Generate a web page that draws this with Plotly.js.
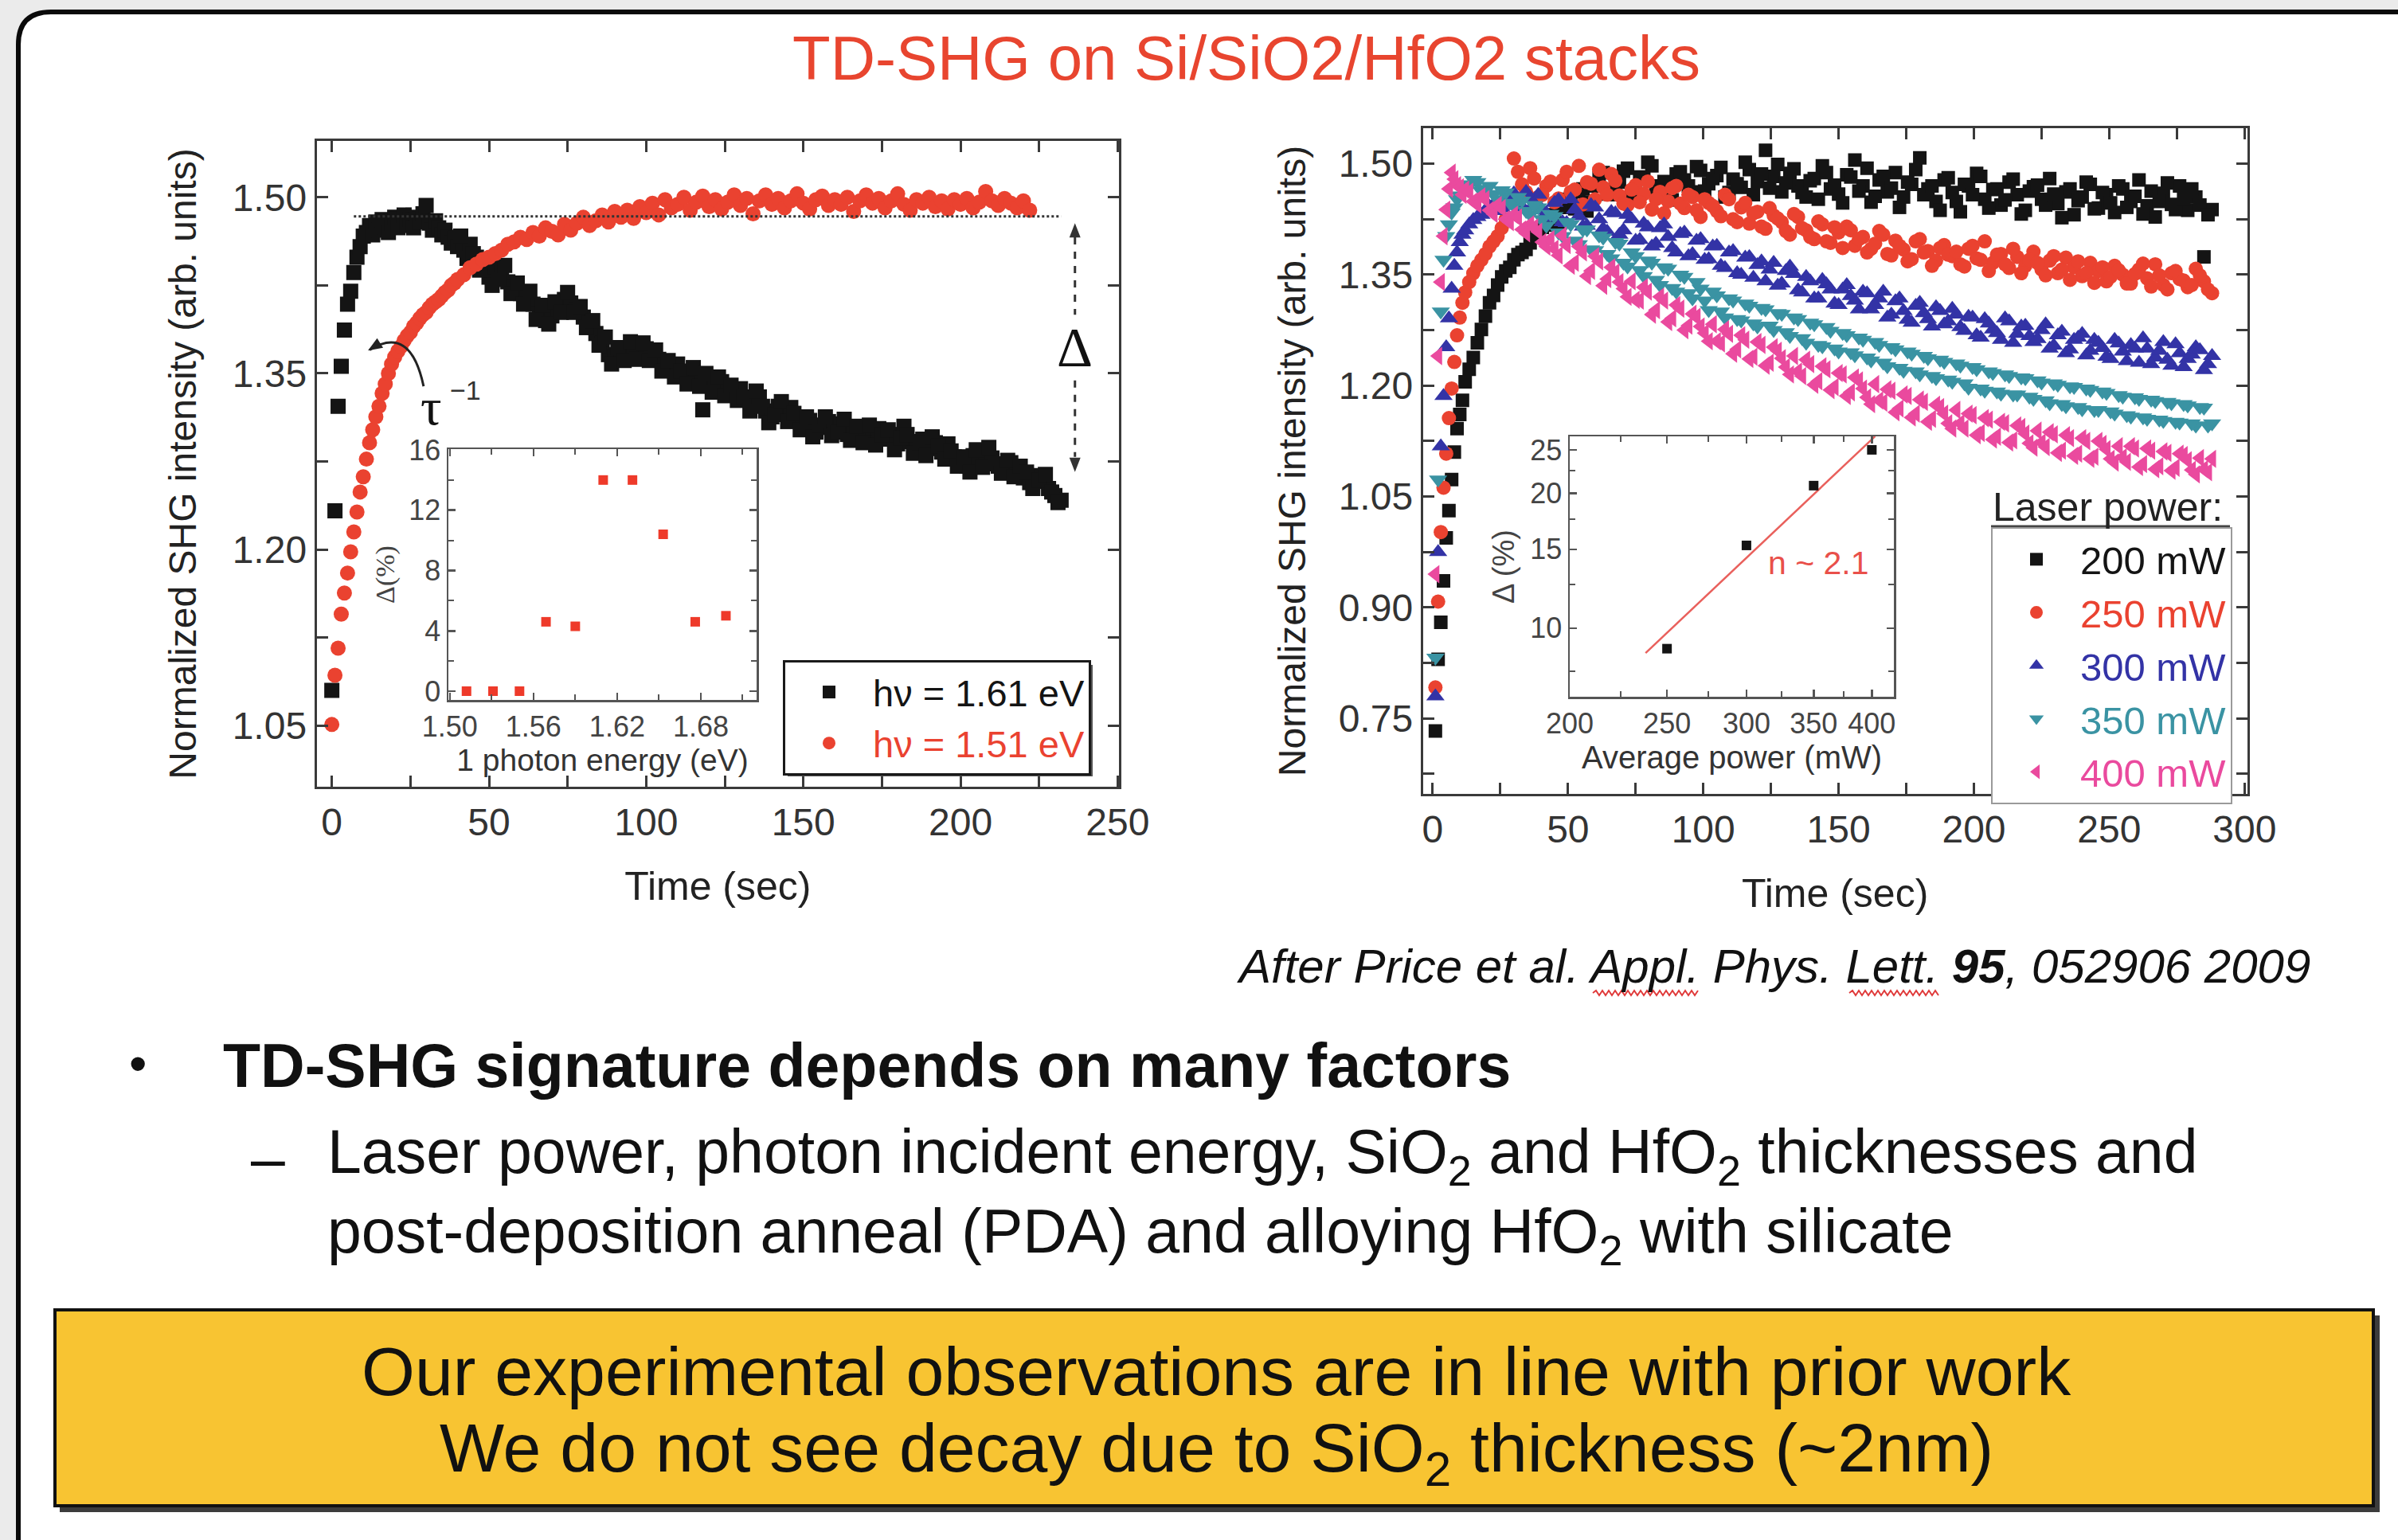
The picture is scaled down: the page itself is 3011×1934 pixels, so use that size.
<!DOCTYPE html>
<html>
<head>
<meta charset="utf-8">
<script src="https://cdn.plot.ly/plotly-3.0.1.min.js"></script>
<style>
html,body{margin:0;padding:0;background:#ebebeb;}
#slide{width:3011px;height:1934px;}
</style>
</head>
<body>
<div id="slide"></div>
<script>
// ---- Left panel: SHG transients at two photon energies ----
const leftTimeBlack = [0,1,2,3,4,5,6,7,8,9,10,11,12,13,14,15,16,17,18,19,20,21,22,23,24,25,26,27,28,29,30,31,32,33,34,35,36,37,38,39,40,
  42,44,46,48,50,52,54,56,58,60,62,64,66,68,70,72,74,76,78,80,82,84,86,88,90,92,94,96,98,100,
  102,104,106,108,110,112,114,116,118,120,122,124,126,128,130,132,134,136,138,140,142,144,146,148,150,
  152,154,156,158,160,162,164,166,168,170,172,174,176,178,180,182,184,186,188,190,192,194,196,198,200,
  202,204,206,208,210,212,214,216,218,220,222,224,226,228,230,232];
const leftBlack = [1.080,1.233,1.322,1.356,1.387,1.409,1.420,1.436,1.449,1.458,1.467,1.470,1.476,1.468,1.479,1.472,1.481,1.475,1.470,1.478,
  1.483,1.474,1.479,1.485,1.476,1.481,1.474,1.483,1.479,1.486,1.493,1.478,1.472,1.480,1.474,1.468,1.472,1.466,1.461,1.465,1.458,
  1.455,1.460,1.449,1.443,1.432,1.441,1.436,1.428,1.424,1.418,
  1.414,1.409,1.401,1.395,1.399,1.405,1.413,1.410,1.404,1.398,
  1.393,1.384,1.376,1.366,1.364,1.370,1.366,1.373,1.367,1.371,
  1.368,1.362,1.357,1.353,1.358,1.351,1.346,1.349,1.319,1.345,
  1.340,1.343,1.336,1.332,1.337,1.329,1.325,1.330,1.318,1.313,
  1.322,1.316,1.321,1.312,1.306,1.310,1.300,1.304,1.309,1.303,
  1.307,1.298,1.302,1.296,1.301,1.296,1.303,1.294,1.298,1.290,
  1.305,1.292,1.287,1.294,1.286,1.291,1.283,1.290,1.279,1.275,
  1.271,1.280,1.274,1.283,1.278,1.271,1.267,1.274,1.268,1.261,
  1.257,1.263,1.258,1.252,1.246,1.242];
// readings taken between the even-second samples of the same run
const leftTimeBlackMid = [41,43,45,47,49,51,53,55,57,59,61,63,65,67,69,71,73,75,77,79,
  81,83,85,87,89,91,93,95,97,99,101,103,105,107,109,111,113,115,117,119,
  121,123,125,127,129,131,133,135,137,139,141,143,145,147,149,151,153,155,157,159,
  161,163,165,167,169,171,173,175,177,179,181,183,185,187,189,191,193,195,197,199,
  201,203,205,207,209,211,213,215,217,219,221,223,225,227,229,231];
const leftBlackMid = [1.467,1.448,1.452,1.438,1.446,1.425,1.430,1.442,1.418,1.427,
  1.409,1.420,1.396,1.408,1.392,1.411,1.402,1.419,1.402,1.407,
  1.389,1.395,1.374,1.381,1.358,1.372,1.361,1.377,1.362,1.376,
  1.361,1.370,1.352,1.361,1.347,1.352,1.341,1.355,1.339,1.350,
  1.334,1.347,1.331,1.340,1.327,1.330,1.318,1.335,1.322,1.308,
  1.315,1.326,1.309,1.316,1.302,1.313,1.296,1.306,1.313,1.297,
  1.300,1.311,1.293,1.305,1.291,1.306,1.289,1.298,1.302,1.285,
  1.295,1.298,1.282,1.291,1.280,1.296,1.288,1.277,1.284,1.271,
  1.279,1.266,1.285,1.270,1.287,1.273,1.265,1.276,1.262,1.271,
  1.266,1.252,1.259,1.264,1.249,1.240];

const leftTimeRed = [0,1,2,3,4,5,6,7,8,9,10,11,12,13,14,15,16,17,18,19,20,21,22,23,24,25,26,27,28,29,30,31,32,33,34,35,36,37,38,39,40,
  42,44,46,48,50,52,54,56,58,60,62,64,66,68,70,72,74,76,78,80,82,84,86,88,90,92,94,96,98,100,
  102,104,106,108,110,112,114,116,118,120,122,124,126,128,130,132,134,136,138,140,142,144,146,148,150,
  152,154,156,158,160,162,164,166,168,170,172,174,176,178,180,182,184,186,188,190,192,194,196,198,200,
  202,204,206,208,210,212,214,216,218,220,222];
const leftRed = [1.051,1.093,1.116,1.145,1.163,1.180,1.198,1.215,1.232,1.249,1.262,1.277,1.291,1.302,1.313,1.322,1.333,1.341,1.350,1.358,
  1.364,1.369,1.373,1.378,1.382,1.385,1.390,1.393,1.397,1.400,1.402,1.406,1.409,1.411,1.413,1.416,1.419,1.421,1.425,1.427,1.430,
  1.434,1.440,1.443,1.447,1.449,1.452,1.455,1.460,1.462,1.466,
  1.464,1.470,1.467,1.474,1.471,1.468,1.477,1.472,1.478,1.483,
  1.476,1.480,1.485,1.479,1.488,1.483,1.489,1.482,1.492,1.487,
  1.495,1.485,1.498,1.491,1.494,1.500,1.489,1.496,1.501,1.492,
  1.498,1.490,1.496,1.502,1.493,1.499,1.486,1.497,1.502,1.494,
  1.499,1.491,1.497,1.503,1.495,1.490,1.498,1.501,1.493,1.498,
  1.494,1.500,1.488,1.497,1.502,1.495,1.499,1.491,1.497,1.503,
  1.494,1.489,1.498,1.495,1.500,1.492,1.497,1.490,1.498,1.494,
  1.499,1.491,1.496,1.505,1.497,1.493,1.499,1.495,1.491,1.497,
  1.489];
const leftNames = ['hν = 1.61 eV', 'hν = 1.51 eV'];

// Inset: decay amplitude versus one-photon energy
const photonEnergy = [1.512,1.531,1.550,1.569,1.590,1.610,1.631,1.653,1.676,1.698];
const deltaEnergy = [0,0,0,4.6,4.3,14.0,14.0,10.4,4.6,5.0];

// ---- Right panel: SHG transients at five laser powers ----
const rightTime = [1,2,3,4,5,6,7,8,9,10,11,12,15,18,21,24,27,30,33,36,
  39,42,45,48,51,54,57,60,63,66,69,72,75,78,81,84,87,90,93,96,
  99,102,105,108,111,114,117,120,123,126,129,132,135,138,141,144,147,150,153,156,
  159,162,165,168,171,174,177,180,183,186,189,192,195,198,201,204,207,210,213,216,
  219,222,225,228,231,234,237,240,243,246,249,252,255,258,261,264,267,270,273,276,
  279,282,285,288];
const power200 = [0.733,0.830,0.880,0.936,0.994,1.031,1.073,1.110,1.142,1.161,
  1.180,1.205,1.238,1.276,1.312,1.336,1.355,1.370,1.380,1.393,
  1.409,1.417,1.428,1.441,1.447,1.462,1.436,1.470,1.488,1.458,
  1.475,1.494,1.463,1.481,1.497,1.470,1.455,1.486,1.478,1.462,
  1.491,1.473,1.484,1.455,1.479,1.468,1.492,1.476,1.518,1.483,
  1.462,1.487,1.470,1.455,1.480,1.497,1.466,1.459,1.485,1.505,
  1.470,1.448,1.478,1.462,1.488,1.455,1.472,1.508,1.466,1.449,
  1.478,1.461,1.435,1.470,1.487,1.452,1.465,1.444,1.475,1.458,
  1.437,1.469,1.452,1.480,1.446,1.462,1.431,1.455,1.472,1.440,
  1.458,1.434,1.466,1.449,1.478,1.443,1.428,1.460,1.445,1.470,
  1.437,1.455,1.374,1.438];
const power250 = [0.792,0.908,1.002,1.062,1.108,1.156,1.196,1.232,1.268,1.292,
  1.312,1.326,1.352,1.370,1.388,1.402,1.425,1.507,1.472,1.494,
  1.455,1.470,1.448,1.478,1.462,1.497,1.475,1.452,1.468,1.486,
  1.457,1.444,1.471,1.459,1.438,1.462,1.449,1.470,1.440,1.455,
  1.428,1.447,1.436,1.458,1.425,1.441,1.419,1.435,1.412,1.430,
  1.421,1.404,1.428,1.410,1.398,1.418,1.393,1.407,1.415,1.389,
  1.401,1.385,1.409,1.378,1.396,1.384,1.371,1.398,1.382,1.369,
  1.390,1.375,1.364,1.385,1.372,1.395,1.366,1.378,1.359,1.374,
  1.362,1.381,1.357,1.369,1.352,1.373,1.360,1.348,1.366,1.355,
  1.341,1.362,1.350,1.338,1.357,1.345,1.364,1.336,1.352,1.344,
  1.333,1.358,1.341,1.325];
const power300 = [0.780,0.975,1.118,1.186,1.252,1.291,1.331,1.362,1.380,1.394,
  1.404,1.410,1.424,1.431,1.442,1.436,1.452,1.460,1.441,1.453,
  1.458,1.433,1.447,1.421,1.452,1.429,1.416,1.441,1.412,1.435,
  1.404,1.431,1.396,1.419,1.388,1.413,1.401,1.380,1.407,1.378,
  1.398,1.371,1.389,1.359,1.382,1.350,1.374,1.363,1.341,1.366,
  1.338,1.361,1.329,1.347,1.318,1.343,1.330,1.309,1.336,1.315,
  1.327,1.303,1.318,1.292,1.314,1.301,1.285,1.312,1.290,1.306,
  1.283,1.304,1.279,1.293,1.268,1.290,1.276,1.262,1.287,1.270,
  1.281,1.259,1.275,1.250,1.268,1.244,1.262,1.270,1.247,1.258,
  1.239,1.262,1.246,1.255,1.231,1.250,1.238,1.259,1.227,1.244,
  1.236,1.252,1.221,1.240];
const power350 = [0.832,1.073,1.300,1.370,1.402,1.418,1.434,1.441,1.452,1.457,
  1.466,1.472,1.478,1.463,1.470,1.452,1.461,1.443,1.450,1.431,
  1.441,1.416,1.429,1.402,1.418,1.391,1.411,1.383,1.400,1.372,
  1.392,1.361,1.375,1.348,1.366,1.336,1.358,1.327,1.347,1.318,
  1.331,1.302,1.322,1.292,1.315,1.288,1.308,1.280,1.303,1.275,
  1.297,1.267,1.290,1.258,1.283,1.253,1.274,1.246,1.268,1.241,
  1.262,1.234,1.255,1.226,1.249,1.220,1.243,1.215,1.237,1.210,
  1.232,1.205,1.227,1.197,1.222,1.193,1.217,1.189,1.213,1.188,
  1.210,1.182,1.204,1.176,1.201,1.172,1.198,1.168,1.194,1.167,
  1.190,1.162,1.185,1.158,1.182,1.155,1.179,1.152,1.176,1.150,
  1.173,1.146,1.170,1.149];
const power400 = [0.945,1.240,1.340,1.402,1.438,1.466,1.488,1.479,1.471,1.468,
  1.458,1.465,1.449,1.456,1.437,1.444,1.425,1.431,1.411,1.418,
  1.408,1.388,1.385,1.403,1.362,1.388,1.348,1.375,1.335,1.360,
  1.340,1.320,1.316,1.333,1.296,1.320,1.286,1.309,1.275,1.297,
  1.280,1.260,1.260,1.276,1.243,1.268,1.236,1.259,1.227,1.252,
  1.237,1.215,1.219,1.235,1.201,1.226,1.194,1.217,1.186,1.211,
  1.196,1.175,1.180,1.195,1.164,1.188,1.157,1.181,1.151,1.174,
  1.162,1.142,1.149,1.162,1.133,1.156,1.127,1.151,1.123,1.146,
  1.135,1.116,1.123,1.137,1.109,1.133,1.105,1.129,1.101,1.125,
  1.114,1.096,1.103,1.118,1.090,1.115,1.087,1.111,1.085,1.108,
  1.099,1.080,1.087,1.101];

// readings taken half-way between the samples above
const rightTimeMid = [13.5,16.5,19.5,22.5,25.5,28.5,31.5,34.5,37.5,40.5,
  43.5,46.5,49.5,52.5,55.5,58.5,61.5,64.5,67.5,70.5,
  73.5,76.5,79.5,82.5,85.5,88.5,91.5,94.5,97.5,100.5,
  103.5,106.5,109.5,112.5,115.5,118.5,121.5,124.5,127.5,130.5,
  133.5,136.5,139.5,142.5,145.5,148.5,151.5,154.5,157.5,160.5,
  163.5,166.5,169.5,172.5,175.5,178.5,181.5,184.5,187.5,190.5,
  193.5,196.5,199.5,202.5,205.5,208.5,211.5,214.5,217.5,220.5,
  223.5,226.5,229.5,232.5,235.5,238.5,241.5,244.5,247.5,250.5,
  253.5,256.5,259.5,262.5,265.5,268.5,271.5,274.5,277.5,280.5,
  283.5,286.5];
const power200Mid = [1.222,1.258,1.294,1.322,1.347,1.360,1.377,1.384,1.401,1.414,
  1.431,1.418,1.452,1.439,1.466,1.448,1.481,1.459,1.472,1.490,
  1.458,1.482,1.502,1.467,1.476,1.451,1.489,1.470,1.496,1.463,
  1.480,1.495,1.461,1.473,1.502,1.458,1.486,1.467,1.499,1.474,
  1.493,1.461,1.477,1.452,1.488,1.471,1.447,1.482,1.463,1.494,
  1.456,1.483,1.467,1.441,1.475,1.492,1.458,1.470,1.437,1.481,
  1.449,1.472,1.458,1.483,1.440,1.466,1.451,1.479,1.432,1.463,
  1.471,1.444,1.459,1.427,1.466,1.450,1.475,1.439,1.461,1.447,
  1.470,1.441,1.456,1.432,1.463,1.449,1.474,1.438,1.452,1.466,
  1.444,1.431];
const power250Mid = [1.340,1.362,1.378,1.395,1.413,1.448,1.489,1.462,1.480,1.458,
  1.476,1.453,1.489,1.465,1.445,1.473,1.492,1.458,1.477,1.446,
  1.465,1.448,1.476,1.452,1.433,1.467,1.446,1.458,1.437,1.452,
  1.443,1.429,1.452,1.421,1.447,1.433,1.415,1.440,1.426,1.409,
  1.432,1.413,1.401,1.422,1.395,1.414,1.386,1.410,1.398,1.380,
  1.392,1.404,1.376,1.389,1.368,1.395,1.380,1.362,1.386,1.377,
  1.381,1.361,1.389,1.370,1.355,1.377,1.364,1.385,1.352,1.370,
  1.366,1.349,1.375,1.357,1.343,1.368,1.352,1.339,1.360,1.347,
  1.356,1.338,1.351,1.365,1.334,1.349,1.330,1.355,1.342,1.336,
  1.349,1.330];
const power300Mid = [1.418,1.428,1.437,1.445,1.440,1.455,1.449,1.462,1.446,1.437,
  1.427,1.451,1.420,1.438,1.415,1.444,1.425,1.408,1.433,1.410,
  1.425,1.397,1.414,1.392,1.418,1.386,1.405,1.375,1.396,1.370,
  1.388,1.362,1.380,1.352,1.373,1.346,1.368,1.357,1.335,1.355,
  1.351,1.326,1.341,1.318,1.337,1.311,1.330,1.321,1.303,1.325,
  1.309,1.327,1.296,1.318,1.289,1.308,1.298,1.280,1.301,1.287,
  1.296,1.274,1.292,1.265,1.284,1.271,1.291,1.258,1.280,1.267,
  1.263,1.283,1.254,1.273,1.249,1.265,1.241,1.262,1.251,1.236,
  1.257,1.233,1.250,1.264,1.229,1.247,1.235,1.256,1.225,1.242,
  1.248,1.229];
const power350Mid = [1.470,1.475,1.466,1.459,1.464,1.447,1.455,1.436,1.444,1.425,
  1.432,1.407,1.421,1.396,1.411,1.384,1.403,1.378,1.394,1.366,
  1.380,1.356,1.369,1.343,1.360,1.332,1.350,1.325,1.340,1.315,
  1.327,1.300,1.318,1.290,1.311,1.284,1.305,1.281,1.298,1.272,
  1.292,1.264,1.285,1.255,1.279,1.250,1.271,1.245,1.265,1.238,
  1.259,1.231,1.252,1.224,1.246,1.219,1.240,1.213,1.235,1.208,
  1.230,1.203,1.225,1.196,1.219,1.192,1.215,1.188,1.211,1.185,
  1.207,1.180,1.203,1.175,1.199,1.171,1.196,1.167,1.192,1.165,
  1.187,1.160,1.184,1.157,1.181,1.154,1.178,1.151,1.175,1.149,
  1.171,1.146];
const power400Mid = [1.462,1.445,1.452,1.432,1.440,1.421,1.427,1.406,1.414,1.394,
  1.398,1.376,1.390,1.366,1.380,1.355,1.368,1.344,1.353,1.331,
  1.341,1.315,1.327,1.302,1.315,1.291,1.304,1.281,1.293,1.271,
  1.283,1.257,1.270,1.249,1.262,1.239,1.255,1.231,1.247,1.225,
  1.240,1.213,1.229,1.206,1.222,1.198,1.215,1.191,1.207,1.184,
  1.202,1.177,1.193,1.169,1.186,1.162,1.178,1.155,1.171,1.149,
  1.167,1.142,1.160,1.136,1.154,1.131,1.149,1.126,1.144,1.122,
  1.139,1.117,1.134,1.112,1.129,1.108,1.125,1.104,1.121,1.101,
  1.118,1.097,1.115,1.094,1.112,1.091,1.109,1.089,1.106,1.086,
  1.102,1.083];
const powerNames = ['200 mW', '250 mW', '300 mW', '350 mW', '400 mW'];

// Inset: decay amplitude versus average power (log-log) and its power-law fit
const avgPower = [250, 300, 350, 400];
const deltaPower = [9.0, 15.3, 20.8, 25.0];
const fitPower = [238, 403];
const fitDelta = [8.8, 26.8];

// ---- Page geometry helpers (pixel -> paper fraction) ----
const W = 3011, H = 1934;
const px = v => v / W;
const py = v => 1 - v / H;
const SANS = 'Liberation Sans, Arial, Helvetica, sans-serif';
const SERIF = 'Liberation Serif, Times New Roman, serif';

const C = {
  black: '#141414', red: '#ea4230', blue: '#3333a6', teal: '#3a93a3', pink: '#ea4a9e',
  axis: '#3a3a3a', title: '#e8452f'
};

function mainAxis(extra) {
  return Object.assign({
    showline: true, linecolor: C.axis, linewidth: 3, mirror: 'allticks',
    ticks: 'inside', ticklen: 14, tickwidth: 3, tickcolor: C.axis,
    showgrid: false, zeroline: false, fixedrange: true,
    tickfont: {family: SANS, size: 48, color: '#333'}
  }, extra);
}
function insetAxis(extra) {
  return Object.assign({
    showline: true, linecolor: '#555', linewidth: 2.5, mirror: 'allticks',
    ticks: 'inside', ticklen: 9, tickwidth: 2.5, tickcolor: '#555',
    showgrid: false, zeroline: false, fixedrange: true,
    tickfont: {family: SANS, size: 36, color: '#444'}
  }, extra);
}
const minorTicks = (extra) => Object.assign({ticks: 'inside', ticklen: 14, tickwidth: 3, tickcolor: C.axis, showgrid: false}, extra);
const minorInset = (extra) => Object.assign({ticks: 'inside', ticklen: 7, tickwidth: 2, tickcolor: '#555', showgrid: false}, extra);

const colorName = (txt, col) => '<span style="color:' + col + '">' + txt + '</span>';

function powerTrace(i, yMain, yMid, symbol, size, color) {
  return {x: rightTime.concat(rightTimeMid), y: yMain.concat(yMid), xaxis: 'x2', yaxis: 'y2',
    type: 'scatter', mode: 'markers', name: colorName(powerNames[i], color), legend: 'legend2',
    marker: {symbol: symbol, size: size, color: color}};
}

const traces = [
  {x: leftTimeBlack.concat(leftTimeBlackMid), y: leftBlack.concat(leftBlackMid), xaxis: 'x', yaxis: 'y',
   type: 'scatter', mode: 'markers', name: colorName(leftNames[0], C.black), legend: 'legend',
   marker: {symbol: 'square', size: 19, color: C.black}},
  {x: leftTimeRed, y: leftRed, xaxis: 'x', yaxis: 'y', type: 'scatter', mode: 'markers',
   name: colorName(leftNames[1], C.red), legend: 'legend',
   marker: {symbol: 'circle', size: 19, color: C.red}},
  {x: photonEnergy, y: deltaEnergy, xaxis: 'x3', yaxis: 'y3', type: 'scatter', mode: 'markers',
   showlegend: false, marker: {symbol: 'square', size: 12, color: '#ee3a2a'}},

  powerTrace(0, power200, power200Mid, 'square', 17, C.black),
  powerTrace(1, power250, power250Mid, 'circle', 18, C.red),
  powerTrace(2, power300, power300Mid, 'triangle-up', 20, C.blue),
  powerTrace(3, power350, power350Mid, 'triangle-down', 20, C.teal),
  powerTrace(4, power400, power400Mid, 'triangle-left', 20, C.pink),

  {x: fitPower, y: fitDelta, xaxis: 'x4', yaxis: 'y4', type: 'scatter', mode: 'lines',
   showlegend: false, line: {color: '#e9605c', width: 2.5}},
  {x: avgPower, y: deltaPower, xaxis: 'x4', yaxis: 'y4', type: 'scatter', mode: 'markers',
   showlegend: false, marker: {symbol: 'square', size: 12, color: '#141414'}}
];

// wavy spell-check underline
function wavy(x0, x1, yc) {
  let d = 'M ' + px(x0) + ',' + py(yc);
  let up = true;
  for (let x = x0 + 4; x <= x1; x += 4) {
    d += ' L ' + px(x) + ',' + py(yc + (up ? -3 : 3));
    up = !up;
  }
  return d;
}
// small filled arrowhead anchored at a data point, path given in pixels (y up)
const head = (x, y, path, col) => ({type: 'path', xref: 'x', yref: 'y', xsizemode: 'pixel', ysizemode: 'pixel',
  xanchor: x, yanchor: y, path: path, fillcolor: col, line: {width: 0}});

const slidePath = 'M ' + px(23) + ',' + py(2100) + ' L ' + px(23) + ',' + py(56) +
  ' Q ' + px(23) + ',' + py(15) + ' ' + px(64) + ',' + py(15) +
  ' L ' + px(3100) + ',' + py(15) + ' L ' + px(3100) + ',' + py(2100) + ' Z';

const shapes = [
  {type: 'path', xref: 'paper', yref: 'paper', path: slidePath, fillcolor: 'white',
   line: {color: '#0a0a0a', width: 6}, layer: 'below'},
  // yellow summary box with its drop shadow
  {type: 'rect', xref: 'paper', yref: 'paper', x0: px(75), x1: px(2988), y0: py(1899), y1: py(1652),
   fillcolor: '#3c3c3c', line: {width: 0}, layer: 'below'},
  {type: 'rect', xref: 'paper', yref: 'paper', x0: px(69), x1: px(2980), y0: py(1891), y1: py(1645),
   fillcolor: '#f8c432', line: {color: '#111', width: 4}, layer: 'below'},
  // shadow behind the left legend
  {type: 'rect', xref: 'paper', yref: 'paper', x0: px(989), x1: px(1372), y0: py(975), y1: py(835),
   fillcolor: '#555', line: {width: 0}, layer: 'above'},
  // underline of the legend heading
  {type: 'line', xref: 'paper', yref: 'paper', x0: px(2500), x1: px(2800), y0: py(662), y1: py(662),
   line: {color: '#444', width: 5}},
  // saturation level and the decay amplitude
  {type: 'line', xref: 'x', yref: 'y', x0: 7, x1: 232, y0: 1.4837, y1: 1.4837,
   line: {color: '#333', width: 3, dash: 'dot'}},
  {type: 'line', xref: 'x', yref: 'y', x0: 236.4, x1: 236.4, y0: 1.466, y1: 1.400,
   line: {color: '#333', width: 3, dash: 'dash'}},
  {type: 'line', xref: 'x', yref: 'y', x0: 236.4, x1: 236.4, y0: 1.344, y1: 1.279,
   line: {color: '#333', width: 3, dash: 'dash'}},
  head(236.4, 1.478, 'M 0,0 L -7,-18 L 7,-18 Z', '#333'),
  head(236.4, 1.266, 'M 0,0 L -7,18 L 7,18 Z', '#333'),
  // rise time arc
  {type: 'path', xref: 'x', yref: 'y', path: 'M 29.2,1.339 Q 25,1.392 12,1.370',
   line: {color: '#222', width: 3}},
  head(11.5, 1.3695, 'M 0,0 L 19,3.5 L 11.5,15.5 Z', '#222'),
  {type: 'path', xref: 'paper', yref: 'paper', path: wavy(2000, 2134, 1247), line: {color: '#e03a3a', width: 2}},
  {type: 'path', xref: 'paper', yref: 'paper', path: wavy(2322, 2436, 1247), line: {color: '#e03a3a', width: 2}}
];

const txt = (x, y, text, size, extra) => Object.assign({
  x: x, y: y, xref: 'paper', yref: 'paper', text: text, showarrow: false,
  font: {family: SANS, size: size, color: '#111'}, xanchor: 'center', yanchor: 'middle'
}, extra || {});

const annotations = [
  txt(px(1565), py(73), 'TD-SHG on Si/SiO2/HfO2 stacks', 78, {font: {family: SANS, size: 78, color: C.title}}),
  txt(px(2903), py(1213), '<i>After Price et al. Appl. Phys. Lett. <b>95</b>, 052906 2009</i>', 60, {xanchor: 'right'}),
  txt(px(173), py(1336), '•', 64),
  txt(px(278), py(1338), '<b>TD-SHG signature depends on many factors</b>', 77, {xanchor: 'left'}),
  txt(px(336), py(1454), '–', 77),
  txt(px(409), py(1501), 'Laser power, photon incident energy, SiO<sub>2</sub> and HfO<sub>2</sub> thicknesses and<br>' +
    'post-deposition anneal (PDA) and alloying HfO<sub>2</sub> with silicate', 77, {xanchor: 'left', align: 'left'}),
  txt(px(1527), py(1722), 'Our experimental observations are in line with prior work', 86),
  txt(px(1527), py(1824), 'We do not see decay due to SiO<sub>2</sub> thickness (~2nm)', 86),
  txt(px(2500), py(637), 'Laser power:', 50, {xanchor: 'left', font: {family: SANS, size: 50, color: '#222'}}),
  txt(px(2283), py(707), 'n ~ 2.1', 41, {font: {family: SANS, size: 41, color: '#e9504a'}}),
  // labels inside the left panel
  {x: 31.6, y: 1.322, xref: 'x', yref: 'y', text: 'τ', showarrow: false,
   font: {family: SERIF, size: 66, color: '#111'}},
  {x: 42.5, y: 1.336, xref: 'x', yref: 'y', text: '−1', showarrow: false,
   font: {family: SANS, size: 34, color: '#333'}},
  {x: 236.4, y: 1.372, xref: 'x', yref: 'y', text: 'Δ', showarrow: false,
   font: {family: SERIF, size: 70, color: '#111'}}
];

const layout = {
  width: W, height: H,
  margin: {l: 0, r: 0, t: 0, b: 0, pad: 0},
  paper_bgcolor: '#ebebeb', plot_bgcolor: 'white',
  font: {family: SANS, color: '#222'},
  showlegend: true,
  xaxis: mainAxis({domain: [px(397.7), px(1405)], range: [-4.8, 250.4], anchor: 'y',
    tick0: 0, dtick: 50, minor: minorTicks({tick0: 0, dtick: 25}),
    title: {text: 'Time (sec)', font: {family: SANS, size: 50, color: '#222'}, standoff: 38}}),
  yaxis: mainAxis({domain: [py(988), py(177)], range: [0.998, 1.548], anchor: 'x',
    tick0: 1.05, dtick: 0.15, tickformat: '.2f', minor: minorTicks({tick0: 1.05, dtick: 0.075}),
    title: {text: 'Normalized SHG intensity (arb. units)', font: {family: SANS, size: 48, color: '#222'}, standoff: 30}}),
  xaxis2: mainAxis({domain: [px(1786.7), px(2821.7)], range: [-3.6, 301], anchor: 'y2',
    tick0: 0, dtick: 50, minor: minorTicks({tick0: 0, dtick: 25}),
    title: {text: 'Time (sec)', font: {family: SANS, size: 50, color: '#222'}, standoff: 38}}),
  yaxis2: mainAxis({domain: [py(997), py(161)], range: [0.648, 1.548], anchor: 'x2',
    tick0: 0.75, dtick: 0.15, tickformat: '.2f', minor: minorTicks({tick0: 0.75, dtick: 0.075}),
    title: {text: 'Normalized SHG intensity (arb. units)', font: {family: SANS, size: 48, color: '#222'}, standoff: 26}}),
  xaxis3: insetAxis({domain: [px(563), px(950)], range: [1.499, 1.720], anchor: 'y3',
    tick0: 1.50, dtick: 0.06, tickformat: '.2f', minor: minorInset({tick0: 1.50, dtick: 0.03}),
    title: {text: '1 photon energy (eV)', font: {family: SANS, size: 39, color: '#333'}, standoff: 8}}),
  yaxis3: insetAxis({domain: [py(879), py(564)], range: [-0.58, 16.05], anchor: 'x3',
    tick0: 0, dtick: 4, minor: minorInset({tick0: 0, dtick: 2}),
    title: {text: 'Δ(%)', font: {family: SERIF, size: 34, color: '#444'}, standoff: 8}}),
  xaxis4: insetAxis({domain: [px(1971), px(2378)], type: 'log', range: [2.301, 2.624], anchor: 'y4',
    tickmode: 'array', tickvals: [200, 250, 300, 350, 400], ticktext: ['200', '250', '300', '350', '400'],
    minor: minorInset({tickmode: 'array', tickvals: [225, 275, 325, 375]}),
    title: {text: 'Average power (mW)', font: {family: SANS, size: 40, color: '#333'}, standoff: 8}}),
  yaxis4: insetAxis({domain: [py(875), py(548)], type: 'log', range: [0.847, 1.428], anchor: 'x4',
    tickmode: 'array', tickvals: [10, 15, 20, 25], ticktext: ['10', '15', '20', '25'],
    minor: minorInset({tickmode: 'array', tickvals: [8, 12.5, 17.5, 22.5]}),
    title: {text: 'Δ (%)', font: {family: SANS, size: 38, color: '#444'}, standoff: 8}}),
  legend: {x: px(983), y: py(829), xanchor: 'left', yanchor: 'top',
    bgcolor: 'white', bordercolor: '#1a1a1a', borderwidth: 3,
    font: {family: SANS, size: 47, color: '#111'}, itemwidth: 100, tracegroupgap: 0},
  legend2: {x: px(2500), y: py(662), xanchor: 'left', yanchor: 'top',
    bgcolor: 'white', bordercolor: '#9a9a9a', borderwidth: 2,
    font: {family: SANS, size: 49, color: '#111'}, itemwidth: 100, tracegroupgap: 0},
  shapes: shapes,
  annotations: annotations
};

Plotly.newPlot('slide', traces, layout, {staticPlot: true, displayModeBar: false});
</script>
</body>
</html>
